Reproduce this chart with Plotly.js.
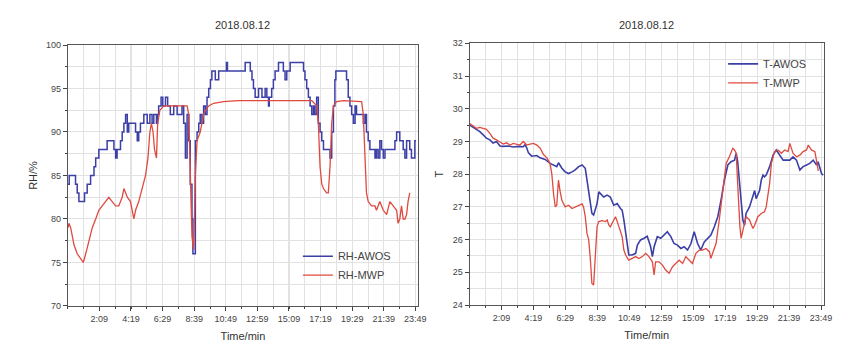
<!DOCTYPE html>
<html><head><meta charset="utf-8">
<script src="https://cdn.plot.ly/plotly-3.0.1.min.js"></script>
<style>html,body{margin:0;padding:0;background:#fff}#c{width:866px;height:358px}</style>
</head><body><div id="c"></div>
<script>
// ---- data (time in minutes since 00:00) ----
const tickVals = [129, 259, 389, 519, 649, 779, 909, 1039, 1169, 1299, 1429];
const tickText = ["2:09", "4:19", "6:29", "8:39", "10:49", "12:59", "15:09", "17:19", "19:29", "21:39", "23:49"];
const titleText = "2018.08.12";

const rhAwosT = [0,5,31,38,45,68,79,93,107,114,127,161,189,196,202,216,223,230,237,244,250,278,285,291,298,312,326,337,346,353,364,369,373,383,390,401,410,421,435,449,469,476,483,490,497,503,510,514,519,524,531,538,544,551,558,565,572,579,586,592,606,620,652,656,729,750,757,763,770,784,798,811,818,825,828,838,845,852,866,886,893,900,914,969,975,982,989,996,1003,1010,1016,1023,1030,1037,1044,1051,1078,1085,1092,1098,1102,1146,1153,1160,1167,1174,1181,1187,1215,1222,1228,1235,1242,1263,1269,1276,1283,1290,1297,1304,1345,1352,1365,1379,1386,1393,1406,1413,1427,1432];
const rhAwos = [84,85,84,83,82,83,84,85,86,87,88,89,88,87,88,89,90,91,92,90,91,90,89,90,91,92,91,92,91,92,91,92,93,94,93,94,93,92,93,92,93,91,87,92,89,84,80,76,76,89,90,91,92,91,93,92,94,95,96,97,96,97,98,97,98,97,96,95,94,95,94,95,94,93,94,95,96,97,98,97,96,97,98,97,96,95,94,93,92,93,92,94,91,90,89,88,87,90,93,96,97,96,94,93,92,91,93,92,91,92,90,89,88,87,88,87,89,88,87,88,89,90,89,88,87,89,88,87,89,89];

const rhMwpT = [0,4,11,18,25,38,52,63,73,86,100,114,127,141,155,168,182,196,209,223,230,237,244,257,264,271,278,291,305,319,329,337,343,350,356,364,369,378,394,421,476,490,497,503,510,517,524,531,538,544,551,558,565,579,599,640,700,1003,1023,1030,1037,1044,1051,1064,1071,1078,1085,1092,1105,1133,1208,1215,1222,1228,1235,1249,1263,1269,1283,1297,1311,1324,1338,1352,1358,1365,1372,1379,1386,1393,1399,1406];
const rhMwp = [79,79.5,79,78,77,76,75.5,75,76,77.5,79,80,81,81.5,82,82.5,82,81.5,81.5,82.5,83.5,83,82.5,82,81,80,81,82,83.5,85,87,90,91,90,88,87,91,92.5,93,93,93,93,92,85,78,76.5,85,89,89.5,90,91,92,92.5,93,93.3,93.5,93.6,93.6,93,91,86,84,83.5,83,83,86,91,93,93.5,93.6,93.5,92,87,83,82,81.5,81.5,81,82,81,80.5,82,81.5,81,79.5,80,81.5,80,80,80.5,82,83];

const tAwosT = [0,14,27,41,55,68,82,95,109,123,136,157,177,198,218,225,232,239,252,273,286,307,327,341,354,361,375,388,402,416,429,443,457,470,477,484,491,497,504,511,518,525,532,545,559,572,586,600,613,620,627,634,641,647,661,675,682,695,709,722,736,743,750,763,777,791,804,818,831,845,859,872,886,900,913,927,940,954,968,981,995,1009,1022,1036,1050,1063,1077,1084,1090,1097,1104,1111,1118,1124,1138,1152,1159,1165,1179,1186,1193,1199,1206,1220,1234,1247,1261,1275,1288,1302,1315,1329,1343,1356,1370,1383,1397,1411,1417,1424,1431,1438];
const tAwos = [29.5,29.43,29.35,29.3,29.2,29.1,29.05,28.95,29.0,28.86,28.85,28.86,28.83,28.85,28.84,28.9,28.8,28.65,28.55,28.57,28.5,28.45,28.33,28.28,28.23,28.35,28.18,28.07,28.02,28.07,28.13,28.23,28.28,28.18,27.82,27.4,27.0,26.8,26.75,26.9,27.1,27.46,27.4,27.3,27.36,27.3,27.05,27.1,26.95,26.9,26.6,26.19,25.78,25.53,25.53,25.58,25.83,25.99,26.04,26.1,25.78,25.48,25.78,26.09,26.04,26.14,26.24,26.09,25.88,25.83,25.73,25.78,25.68,25.88,26.24,25.88,25.68,25.93,26.04,26.14,26.39,26.7,27.2,27.82,28.28,28.38,28.43,28.64,28.38,27.82,27.2,26.6,26.44,26.8,27.0,27.3,27.5,27.25,27.5,27.82,27.97,27.92,27.97,28.23,28.58,28.74,28.58,28.43,28.43,28.43,28.53,28.43,28.13,28.23,28.28,28.33,28.43,28.28,28.38,28.18,28.02,27.97];

const tMwpT = [0,14,27,41,55,68,82,95,109,123,136,150,164,177,191,204,218,232,245,259,273,286,300,314,327,334,341,348,354,361,368,375,388,402,416,429,443,457,463,470,477,484,491,497,504,511,518,525,538,552,559,566,572,586,593,600,613,620,627,634,647,661,675,688,702,716,729,743,750,756,770,784,797,811,825,838,852,866,879,893,906,920,934,947,961,975,981,988,1002,1015,1029,1043,1056,1070,1077,1084,1088,1093,1099,1104,1111,1118,1124,1138,1152,1159,1172,1186,1199,1206,1220,1227,1240,1254,1268,1281,1295,1302,1315,1329,1343,1356,1370,1377,1390,1404,1411,1418];
const tMwp = [29.55,29.47,29.4,29.43,29.4,29.37,29.25,29.1,29.05,28.99,28.92,28.96,28.89,28.94,28.92,28.89,29.0,28.89,28.92,28.94,28.89,28.8,28.6,28.5,28.33,28.0,27.4,27.0,27.05,27.82,27.46,27.2,27.0,27.05,26.95,27.0,27.05,27.09,27.0,26.7,26.19,25.99,25.37,24.66,24.61,25.58,26.4,26.55,26.58,26.55,26.6,26.44,26.39,26.6,26.7,26.55,26.24,26.09,25.68,25.53,25.37,25.42,25.48,25.42,25.48,25.58,25.48,25.32,24.92,25.32,25.32,25.22,25.07,24.97,25.17,25.27,25.37,25.27,25.48,25.37,25.27,25.58,25.68,25.68,25.73,25.63,25.43,25.58,25.88,26.6,27.5,28.33,28.53,28.79,28.74,28.64,28.0,27.2,26.39,26.04,26.24,26.5,26.7,26.6,26.34,26.44,26.7,26.8,26.85,27.0,27.72,28.33,28.69,28.74,28.64,28.74,28.69,28.94,28.64,28.53,28.58,28.69,28.74,28.89,28.74,28.69,28.43,28.1];

const BLUE = "#3b3fa6", RED = "#df4a3f";
const FONT = "Liberation Sans, Arial, sans-serif";

const traces = [
  {x: rhAwosT, y: rhAwos, name: "RH-AWOS", type: "scatter", mode: "lines", line: {color: BLUE, width: 1.5, shape: "hv"}, xaxis: "x", yaxis: "y", legend: "legend"},
  {x: rhMwpT, y: rhMwp, name: "RH-MWP", type: "scatter", mode: "lines", line: {color: RED, width: 1.3}, xaxis: "x", yaxis: "y", legend: "legend"},
  {x: tAwosT, y: tAwos, name: "T-AWOS", type: "scatter", mode: "lines", line: {color: BLUE, width: 1.6}, xaxis: "x2", yaxis: "y2", legend: "legend2"},
  {x: tMwpT, y: tMwp, name: "T-MWP", type: "scatter", mode: "lines", line: {color: RED, width: 1.3}, xaxis: "x2", yaxis: "y2", legend: "legend2"}
];

const gridCol = "#e2e2e2";
function xAxis(domain, anchor) {
  return {
    domain: domain, anchor: anchor, range: [0, 1440],
    tickmode: "array", tickvals: tickVals, ticktext: tickText,
    ticks: "outside", ticklen: 4, tickcolor: "#444", tickwidth: 1,
    tickfont: {size: 9, color: "#444", family: FONT},
    showgrid: true, gridcolor: gridCol, gridwidth: 1,
    minor: {dtick: 65, tick0: 0, showgrid: true, gridcolor: gridCol, ticks: "outside", ticklen: 2, tickcolor: "#444"},
    showline: true, linecolor: "#555", linewidth: 1.2, mirror: true,
    zeroline: false, fixedrange: true,
    title: {text: "Time/min", font: {size: 11, color: "#333", family: FONT}, standoff: 9}
  };
}
function yAxis(domain, anchor, range, dtick, minor, title) {
  return {
    domain: domain, anchor: anchor, range: range, dtick: dtick,
    ticks: "outside", ticklen: 4, tickcolor: "#444",
    tickfont: {size: 9, color: "#444", family: FONT},
    showgrid: true, gridcolor: gridCol,
    minor: {dtick: minor, showgrid: true, gridcolor: gridCol, ticks: "outside", ticklen: 2, tickcolor: "#444"},
    showline: true, linecolor: "#555", linewidth: 1.2, mirror: true,
    zeroline: false, fixedrange: true,
    title: {text: title, font: {size: 11, color: "#333", family: FONT}, standoff: 6}
  };
}

const layout = {
  width: 866, height: 358,
  margin: {l: 0, r: 0, t: 0, b: 0},
  paper_bgcolor: "#fff", plot_bgcolor: "#fff",
  font: {family: FONT, color: "#333"},
  showlegend: true,
  xaxis: xAxis([0.0785, 0.4827], "y"),
  yaxis: yAxis([0.1453, 0.8743], "x", [70, 100], 5, 2.5, "RH/%"),
  xaxis2: xAxis([0.5424, 0.9512], "y2"),
  yaxis2: yAxis([0.148, 0.879], "x2", [24, 32], 1, 0.5, "T"),
  legend: {x: 0.344, y: 0.325, xanchor: "left", yanchor: "top", bgcolor: "rgba(0,0,0,0)", borderwidth: 0,
           font: {size: 11, color: "#444", family: FONT}, tracegroupgap: 0, itemwidth: 30},
  legend2: {x: 0.835, y: 0.862, xanchor: "left", yanchor: "top", bgcolor: "rgba(0,0,0,0)", borderwidth: 0,
           font: {size: 11, color: "#444", family: FONT}, tracegroupgap: 0, itemwidth: 30},
  annotations: [
    {text: titleText, xref: "paper", yref: "paper", x: 0.2806, y: 0.93, xanchor: "center", yanchor: "middle", showarrow: false, font: {size: 11, color: "#333", family: FONT}},
    {text: titleText, xref: "paper", yref: "paper", x: 0.7468, y: 0.93, xanchor: "center", yanchor: "middle", showarrow: false, font: {size: 11, color: "#333", family: FONT}}
  ]
};

Plotly.newPlot("c", traces, layout, {displayModeBar: false, staticPlot: true});
</script>
</body></html>
